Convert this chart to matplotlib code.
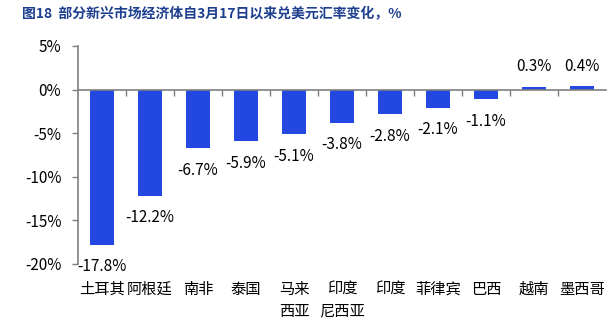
import matplotlib
matplotlib.use("Agg")
import matplotlib.pyplot as plt
import matplotlib.transforms as mtransforms

plt.rcParams['font.family'] = ['Noto Sans CJK SC', 'DejaVu Sans']

categories = ["土耳其", "阿根廷", "南非", "泰国", "马来\n西亚", "印度\n尼西亚",
              "印度", "菲律宾", "巴西", "越南", "墨西哥"]
values = [-17.8, -12.2, -6.7, -5.9, -5.1, -3.8, -2.8, -2.1, -1.1, 0.3, 0.4]
yticks = [5, 0, -5, -10, -15, -20]
title = "图18  部分新兴市场经济体自3月17日以来兑美元汇率变化，%"

bar_color = "#2348E2"
gray = "#7F7F7F"

fig = plt.figure(figsize=(6.09, 3.26), dpi=100)
ax = fig.add_axes([78/609, 1-264/326, (606-78)/609, (264-46)/326])

x = list(range(len(categories)))
ax.bar(x, values, width=0.5, color=bar_color, zorder=2)

ax.set_xlim(-0.5, len(categories) - 0.5)
ax.set_ylim(-20, 5)
ax.set_yticks(yticks)
ax.set_yticklabels([f"{v}%" for v in yticks], fontsize=11)
ax.tick_params(axis='y', direction='out', length=4, width=1, color=gray, pad=8)

for s in ['top', 'right']:
    ax.spines[s].set_visible(False)
ax.spines['left'].set_color(gray)
ax.spines['left'].set_linewidth(1.2)
ax.spines['bottom'].set_position(('data', 0))
ax.spines['bottom'].set_color(gray)
ax.spines['bottom'].set_linewidth(1.2)
ax.spines['bottom'].set_zorder(3)

ax.set_xticks([i + 0.5 for i in x[:-1]])
ax.set_xticklabels([])
ax.tick_params(axis='x', direction='out', length=4, width=1, color=gray)

for i, v in enumerate(values):
    off = 20 if v > 0 else -22
    ax.annotate(f"{v}%", xy=(i, v), xytext=(0, off * 0.72), textcoords='offset points',
                ha='center', va='center', fontsize=11, color='black')

trans = mtransforms.blended_transform_factory(ax.transData, ax.transAxes)
for i, lab in enumerate(categories):
    ax.annotate(lab, xy=(i, 0), xycoords=trans, xytext=(0, -17 * 0.72),
                textcoords='offset points', ha='center', va='top', fontsize=11,
                linespacing=1.35, color='black')

fig.text(22/609, 1-14/326, title, fontsize=10, fontweight='bold',
         color='#1E3F8F', ha='left', va='center')

fig.savefig("out.png", dpi=100)
